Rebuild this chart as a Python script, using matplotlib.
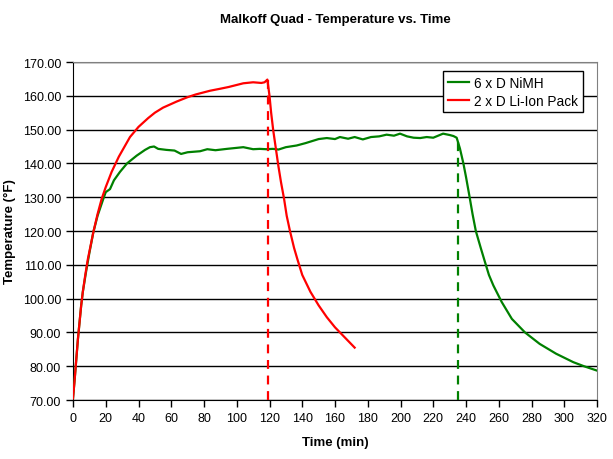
import matplotlib
matplotlib.use("Agg")
import matplotlib.pyplot as plt
from matplotlib.ticker import FormatStrFormatter, MultipleLocator

plt.rcParams['font.family'] = ['Liberation Sans', 'DejaVu Sans']

# NiMH series (time in min, temperature in °F)
nimh_t = [0, 1, 2, 3, 4, 5, 6, 8, 10, 12.4, 15, 18.5, 20, 22.6, 25, 28.7, 33, 38.9, 44, 47,
          49.5, 52, 57, 62, 66, 70, 77.6, 82, 87, 94, 100, 104, 110, 114, 118, 122, 125.5,
          130, 136.6, 142, 150, 155, 160, 163, 168, 172, 177, 182, 187, 191.5, 196, 199.7,
          204, 208, 212, 216, 220, 226, 230, 232.3, 234.3, 236.3, 238.4, 240, 242, 244, 246,
          249, 251.6, 254, 256.7, 261.8, 268, 276, 285, 295, 305.5, 312, 320]
nimh_T = [70.5, 76, 82, 88, 93, 98, 102, 108, 113.5, 119.6, 124.5, 129.5, 131.5, 132.4, 135,
          137.5, 140, 142.3, 144, 144.8, 145, 144.3, 144, 143.8, 142.8, 143.3, 143.6, 144.2,
          143.9, 144.3, 144.6, 144.8, 144.2, 144.3, 144.2, 144.3, 144.1, 144.8, 145.3, 146,
          147.2, 147.5, 147.2, 147.8, 147.3, 147.8, 147.1, 147.8, 148, 148.5, 148.2, 148.8,
          148, 147.6, 147.5, 147.8, 147.6, 148.8, 148.4, 148.1, 147.6, 144.4, 140, 136, 130.6,
          125, 120, 115, 110.8, 107, 103.9, 99, 94, 90, 86.6, 83.7, 81.2, 80, 78.7]

# Li-Ion series
li_t = [0, 1, 2, 3, 4, 5, 6, 7.5, 9, 12.4, 15, 17.5, 20, 23.6, 28, 34.8, 40, 45.9, 50, 55,
        63.3, 70, 75, 83.7, 90, 95, 104, 110, 115, 117, 118.7, 120, 121, 122.3, 124, 125.4,
        127, 128.9, 130.5, 132.5, 135, 137, 140, 145, 150, 155, 160, 165, 170, 172]
li_T = [70.5, 76, 82, 88, 93, 98, 102, 107, 111.5, 119.6, 125, 129.5, 133, 137.5, 142, 147.8,
        150.8, 153.4, 155, 156.5, 158.3, 159.6, 160.4, 161.5, 162.1, 162.6, 163.7, 164,
        163.8, 164, 164.8, 160, 155, 149.7, 144, 139.3, 134.5, 129.5, 124.5, 120, 115,
        111.7, 107, 102, 98, 94.5, 91.5, 89, 86.5, 85.5]

nimh_end = 235
li_end = 119
xticks = list(range(0, 321, 20))

fig = plt.figure(figsize=(6.13, 4.60), dpi=100)
ax = fig.add_axes([73/613, 1-401/460, 524/613, 338/460])

ax.plot(nimh_t, nimh_T, color='#008000', lw=1.6, label='6 x D NiMH', zorder=3)
ax.plot(li_t, li_T, color='#FF0000', lw=1.6, label='2 x D Li-Ion Pack', zorder=3)
ax.plot([li_end, li_end], [70, 164.8], color='#FF0000', lw=1.6, ls=(0, (4, 3)), zorder=3)
ax.plot([nimh_end, nimh_end], [70, 147.8], color='#008000', lw=1.6, ls=(0, (4, 3)), zorder=3)

ax.set_xlim(0, 320)
ax.set_ylim(70, 170)
ax.set_xticks(xticks)
ax.yaxis.set_major_locator(MultipleLocator(10))
ax.yaxis.set_major_formatter(FormatStrFormatter('%.2f'))
ax.yaxis.grid(True, color='black', lw=1)
ax.set_axisbelow(True)
ax.tick_params(axis='both', direction='out', length=5, width=1, labelsize=9, color='black')
for s in ['top', 'right']:
    ax.spines[s].set_color('#808080')
for s in ['left', 'bottom']:
    ax.spines[s].set_color('black')

ax.set_title('Malkoff Quad - Temperature vs. Time', fontsize=9.5, fontweight='bold', pad=29)
ax.set_xlabel('Time (min)', fontsize=9.5, fontweight='bold', labelpad=9)
ax.set_ylabel('Temperature (°F)', fontsize=9.5, fontweight='bold', labelpad=5)

leg = ax.legend(loc='upper right', bbox_to_anchor=(0.973, 0.972), fontsize=9.8, frameon=True,
                fancybox=False, framealpha=1, edgecolor='black', handlelength=1.6,
                borderpad=0.35, labelspacing=0.25, handletextpad=0.35, borderaxespad=0)
leg.get_frame().set_linewidth(1)

fig.savefig('out.png', dpi=100)
